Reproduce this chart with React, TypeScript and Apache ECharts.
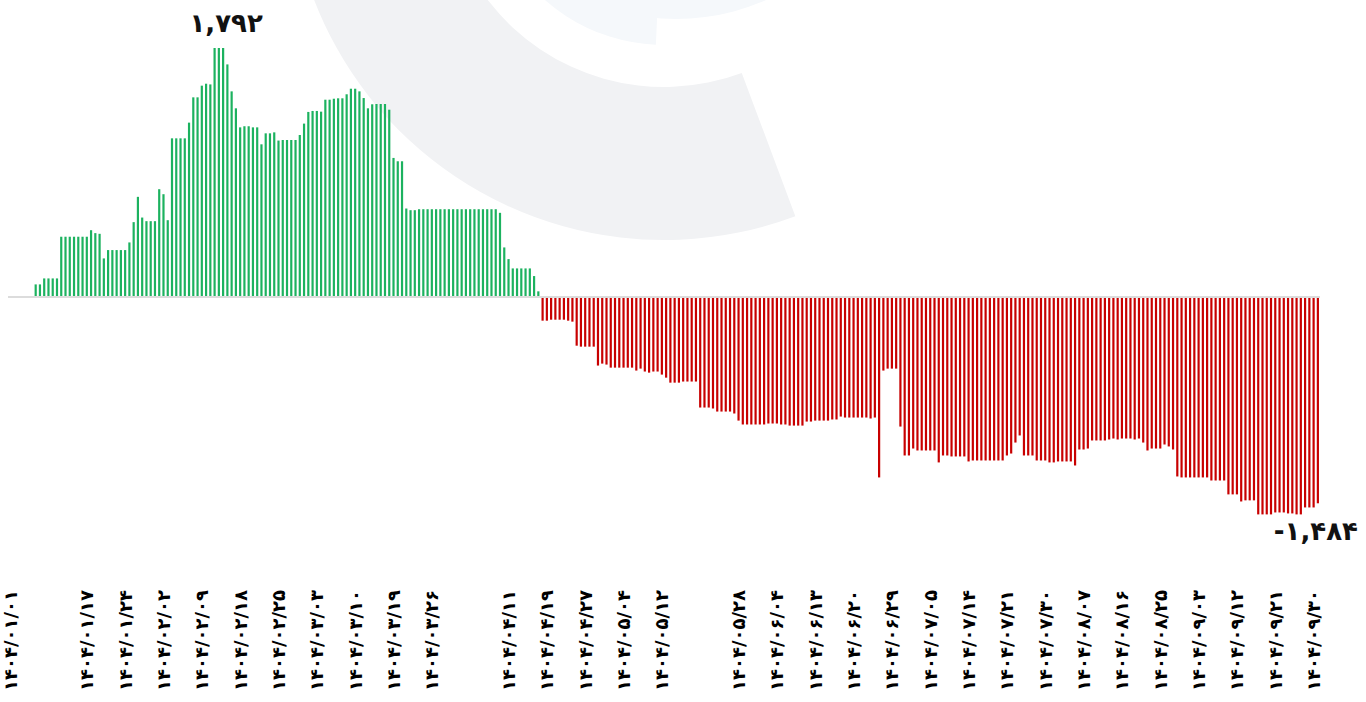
import React, { useEffect, useRef } from 'react';
import * as echarts from 'echarts';

// Tick labels every 9th category ('' = no label drawn at that position)
const tickLabels: string[] = [
  '۱۴۰۴/۰۱/۰۱', '', '۱۴۰۴/۰۱/۱۷', '۱۴۰۴/۰۱/۲۴', '۱۴۰۴/۰۲/۰۲', '۱۴۰۴/۰۲/۰۹',
  '۱۴۰۴/۰۲/۱۸', '۱۴۰۴/۰۲/۲۵', '۱۴۰۴/۰۳/۰۳', '۱۴۰۴/۰۳/۱۰', '۱۴۰۴/۰۳/۱۹',
  '۱۴۰۴/۰۳/۲۶', '', '۱۴۰۴/۰۴/۱۱', '۱۴۰۴/۰۴/۱۹', '۱۴۰۴/۰۴/۲۷', '۱۴۰۴/۰۵/۰۴',
  '۱۴۰۴/۰۵/۱۲', '', '۱۴۰۴/۰۵/۲۸', '۱۴۰۴/۰۶/۰۴', '۱۴۰۴/۰۶/۱۳', '۱۴۰۴/۰۶/۲۰',
  '۱۴۰۴/۰۶/۲۹', '۱۴۰۴/۰۷/۰۵', '۱۴۰۴/۰۷/۱۴', '۱۴۰۴/۰۷/۲۱', '۱۴۰۴/۰۷/۳۰',
  '۱۴۰۴/۰۸/۰۷', '۱۴۰۴/۰۸/۱۶', '۱۴۰۴/۰۸/۲۵', '۱۴۰۴/۰۹/۰۳', '۱۴۰۴/۰۹/۱۲',
  '۱۴۰۴/۰۹/۲۱', '۱۴۰۴/۰۹/۳۰',
];
const LABEL_STEP = 9;

// Positive phase (green bars)
const positiveValues: number[] = [
  0, 0, 0, 0, 0, 0,
  91, 91, 134, 134, 134, 134,
  434, 434, 434, 434, 434, 434, 434,
  481, 460, 455,
  278,
  338, 338, 338, 338, 338,
  393, 539, 721, 572,
  546, 546, 546,
  776, 740, 553,
  1142, 1142, 1142, 1142,
  1255, 1437, 1437, 1521, 1535, 1530,
  1792, 1792, 1792,
  1674, 1480, 1358, 1221, 1229, 1229, 1221, 1221, 1099, 1178, 1178, 1185, 1126,
  1130, 1130, 1130, 1130,
  1166, 1248, 1332, 1339, 1339, 1334,
  1420, 1420, 1427, 1430, 1430, 1459, 1499, 1499, 1480, 1432, 1358,
  1387, 1389, 1389, 1389, 1348,
  1001, 977, 977,
  637, 625, 625,
  632, 632, 632, 632, 632, 632, 632, 632, 632, 632, 632, 632, 632, 632, 632, 632, 632, 632, 632,
  606, 357, 273,
  206, 206, 206, 206, 206,
  151, 41,
];

// Negative phase (red bars)
const negativeValues: number[] = [
  -170, -170, -163, -163, -163, -163, -170, -177,
  -350, -357, -357, -357, -357,
  -493, -479, -486,
  -508, -508, -508, -508, -508, -508,
  -529, -515, -536, -544, -536, -536,
  -558, -580,
  -616, -616, -616,
  -608, -608, -608, -608,
  -795, -795, -795,
  -802,
  -824, -824, -824, -824,
  -838,
  -889,
  -917, -917, -917, -917, -917, -917,
  -910, -910, -910,
  -917, -917,
  -925, -925, -925, -925,
  -896, -896,
  -889, -889, -889, -889,
  -881, -881,
  -860,
  -867, -867, -867, -867, -867, -867,
  -874,
  -867,
  -1298,
  -529,
  -515, -515, -515,
  -932,
  -1140, -1140,
  -1090,
  -1104, -1104, -1104, -1104, -1104,
  -1190,
  -1140, -1140,
  -1147, -1147, -1147, -1147,
  -1183,
  -1176, -1176, -1176, -1176, -1176, -1176, -1176, -1176,
  -1140,
  -1126,
  -1047,
  -996,
  -1140, -1140, -1140,
  -1176, -1176, -1176,
  -1190, -1190,
  -1183, -1183, -1183, -1183,
  -1212,
  -1097, -1097,
  -1090,
  -1032, -1032, -1032, -1032,
  -1025,
  -1018,
  -1025,
  -1018, -1018, -1018,
  -1025,
  -1018,
  -1047,
  -1104,
  -1090, -1090, -1090,
  -1061,
  -1075,
  -1097,
  -1291,
  -1298, -1298, -1298, -1298, -1298, -1298, -1298,
  -1320, -1320, -1320, -1320,
  -1420, -1420, -1420,
  -1471,
  -1463, -1463, -1463,
  -1564, -1564, -1564, -1564,
  -1550, -1550, -1550,
  -1557, -1557,
  -1564, -1564,
  -1514, -1514, -1514,
  -1484,
];

const values: number[] = [...positiveValues, ...negativeValues];
const categories: string[] = values.map((_, i) => {
  const t = i % LABEL_STEP === 0 ? tickLabels[i / LABEL_STEP] : '';
  return t ? t : `#${i}`;
});

const FA_DIGITS = '۰۱۲۳۴۵۶۷۸۹';
function toFa(n: number): string {
  const s = Math.abs(n).toLocaleString('en-US').replace(/\d/g, (d) => FA_DIGITS[+d]);
  return n < 0 ? '-' + s : s;
}

const FONT = "'DejaVu Sans', 'Noto Sans', sans-serif";
const GREEN = '#1cb25f';
const RED = '#c80000';

export default function App() {
  const ref = useRef<HTMLDivElement>(null);

  useEffect(() => {
    if (!ref.current) return;
    const chart = echarts.init(ref.current, undefined, { renderer: 'svg' });

    let maxIdx = 0;
    values.forEach((v, i) => { if (v > values[maxIdx]) maxIdx = i; });
    values.forEach((v, i) => { if (v === values[maxIdx]) maxIdx = Math.max(maxIdx, i); });
    const lastIdx = values.length - 1;

    const cx = 664, cy = -135;

    chart.setOption({
      animation: false,
      backgroundColor: '#ffffff',
      graphic: [
        {
          type: 'sector',
          z: 0,
          silent: true,
          shape: { cx, cy, r: 375, r0: 222, startAngle: 1.213, endAngle: Math.PI + 0.6, clockwise: true },
          style: { fill: '#f1f2f4' },
        },
        {
          type: 'sector',
          z: 0,
          silent: true,
          shape: { cx, cy, r: 180, r0: 0, startAngle: 1.616, endAngle: Math.PI + 0.6, clockwise: true },
          style: { fill: '#f5f8fb' },
        },
        {
          type: 'circle',
          z: 0,
          silent: true,
          shape: { cx: 676, cy: -204, r: 223 },
          style: { fill: '#f5f8fb' },
        },
      ],
      grid: { left: 8, right: 46, top: 48, bottom: 127, containLabel: false },
      xAxis: {
        type: 'category',
        data: categories,
        boundaryGap: true,
        axisLine: { show: false, onZero: false },
        axisTick: { show: false },
        splitLine: { show: false },
        axisLabel: {
          interval: LABEL_STEP - 1,
          rotate: 90,
          margin: 15,
          fontSize: 18,
          fontWeight: 'bold',
          color: '#000',
          fontFamily: FONT,
          formatter: (v: string) => (v.startsWith('#') ? '' : v),
        },
      },
      yAxis: {
        type: 'value',
        min: -2000,
        max: 1792,
        show: false,
        splitLine: { show: false },
      },
      series: [
        {
          type: 'bar',
          data: values,
          barWidth: 2.2,
          itemStyle: {
            color: (p: any) => (p.value >= 0 ? GREEN : RED),
          },
          markLine: {
            silent: true,
            symbol: 'none',
            label: { show: false },
            lineStyle: { color: '#dcdcdc', width: 2, type: 'solid' },
            data: [{ yAxis: 0 }],
          },
          markPoint: {
            symbol: 'circle',
            symbolSize: 1,
            silent: true,
            itemStyle: { color: 'rgba(0,0,0,0)' },
            label: {
              show: true,
              fontSize: 26,
              fontWeight: 'bold',
              color: '#111',
              fontFamily: FONT,
              formatter: (p: any) => toFa(p.value),
            },
            data: [
              {
                coord: [maxIdx, values[maxIdx]],
                value: values[maxIdx],
                label: { position: 'top', distance: 12, offset: [3, 0] },
              },
              {
                coord: [lastIdx, values[lastIdx]],
                value: values[lastIdx],
                label: { position: 'bottom', distance: 14, offset: [-2, 0] },
              },
            ],
          },
        },
      ],
    });

    return () => chart.dispose();
  }, []);

  return (
    <div style={{ position: 'fixed', left: 0, top: 0, width: 1366, height: 702 }}>
      <div ref={ref} style={{ width: 1366, height: 702 }} />
    </div>
  );
}
